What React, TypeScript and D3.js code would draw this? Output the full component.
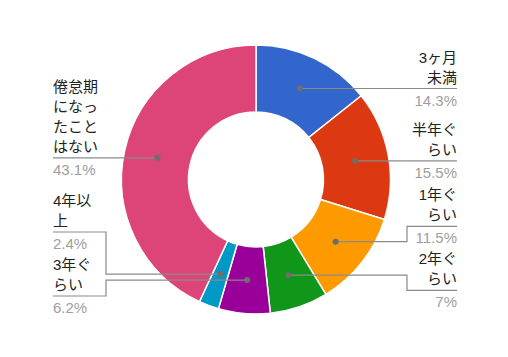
import React from "react";
import * as d3 from "d3";

const categories = ["3ヶ月未満", "半年ぐらい", "1年ぐらい", "2年ぐらい", "3年ぐらい", "4年以上", "倦怠期になったことはない"];
const values = [14.3, 15.5, 11.5, 7, 6.2, 2.4, 43.1];
const percentLabels = ["14.3%", "15.5%", "11.5%", "7%", "6.2%", "2.4%", "43.1%"];
const colors = ["#3366cc", "#dc3912", "#ff9900", "#109618", "#990099", "#0099c6", "#dd4477"];

const W = 508, H = 357;
const cx = 256, cy = 179.5;
const outerR = 134.5, innerR = 67.5;
const FONT = "'Liberation Sans', Arial, 'Noto Sans CJK JP', sans-serif";
const FS = 15;
const LINE_H = 20;
const WRAP_W = 46;
const RIGHT_X = 457, LEFT_X = 53;
const RIGHT_BEND = 407, LEFT_BEND = 106;

function charW(c: string) {
  if (/[0-9]/.test(c)) return 8.34;
  if (/[\x20-\x7e]/.test(c)) return 7;
  return 15;
}
function wrap(s: string): string[] {
  const out: string[] = [];
  let cur = "", w = 0;
  for (const c of Array.from(s)) {
    const cw = charW(c);
    if (w + cw > WRAP_W && cur) { out.push(cur); cur = ""; w = 0; }
    cur += c; w += cw;
  }
  if (cur) out.push(cur);
  return out;
}

type Lab = { i: number; natural: number; y: number; lines: string[] };

function layout(items: Lab[], minY: number, maxY: number) {
  items.sort((a, b) => a.natural - b.natural);
  const above = (l: Lab) => l.lines.length * LINE_H + 2;
  const below = 22;
  let clusters: Lab[][] = [];
  const place = (cl: Lab[]) => {
    const offs: number[] = [0];
    for (let k = 1; k < cl.length; k++) offs.push(offs[k - 1] + below + above(cl[k]));
    let start = d3.mean(cl.map((l, k) => l.natural - offs[k]))!;
    const lastOff = offs[offs.length - 1];
    if (start - above(cl[0]) < minY) start = minY + above(cl[0]);
    if (start + lastOff + below > maxY) start = maxY - below - lastOff;
    cl.forEach((l, k) => (l.y = start + offs[k]));
  };
  for (const it of items) {
    let cl = [it];
    place(cl);
    while (clusters.length) {
      const prev = clusters[clusters.length - 1];
      const p = prev[prev.length - 1];
      if (cl[0].y - above(cl[0]) < p.y + below) {
        clusters.pop();
        cl = prev.concat(cl);
        place(cl);
      } else break;
    }
    clusters.push(cl);
  }
}

export default function App() {
  const pie = d3.pie<number>().sort(null).value((d) => d)(values);
  const arc = d3.arc<d3.PieArcDatum<number>>().innerRadius(innerR).outerRadius(outerR);
  const centroids = pie.map((p) => arc.centroid(p));

  const right: Lab[] = [], left: Lab[] = [];
  pie.forEach((p, i) => {
    const lab: Lab = { i, natural: cy + centroids[i][1], y: 0, lines: wrap(categories[i]) };
    (centroids[i][0] >= 0 ? right : left).push(lab);
  });
  const minY = 40, maxY = cy + outerR + 4;
  layout(right, minY, maxY);
  layout(left, minY, maxY);

  const renderLabel = (l: Lab, side: "r" | "l") => {
    const dx = cx + centroids[l.i][0];
    const dy = cy + centroids[l.i][1];
    const endX = side === "r" ? RIGHT_X : LEFT_X;
    const bend = side === "r" ? RIGHT_BEND : LEFT_BEND;
    const straight = Math.abs(dy - l.y) < 1.5;
    const d = straight
      ? `M${dx},${l.y}H${endX}`
      : `M${dx},${dy}H${bend}V${l.y}H${endX}`;
    const n = l.lines.length;
    const anchor = side === "r" ? "end" : "start";
    return (
      <g key={l.i}>
        <path d={d} fill="none" stroke="#8a8a8a" strokeWidth={1.2} />
        <circle cx={dx} cy={straight ? l.y : dy} r={3} fill="#6e6e6e" />
        {l.lines.map((t, k) => (
          <text key={k} x={endX} y={l.y - 6 - (n - 1 - k) * LINE_H} textAnchor={anchor}
            fontFamily={FONT} fontSize={FS} fill="#222222">{t}</text>
        ))}
        <text x={endX} y={l.y + 17} textAnchor={anchor} fontFamily={FONT} fontSize={FS} fill="#9e9e9e">
          {percentLabels[l.i]}
        </text>
      </g>
    );
  };

  return (
    <svg width={W} height={H} style={{ position: "absolute", left: 0, top: 0, background: "#fff" }}>
      <g transform={`translate(${cx},${cy})`}>
        {pie.map((p, i) => (
          <path key={i} d={arc(p)!} fill={colors[i]} stroke="#ffffff" strokeWidth={1.5} />
        ))}
      </g>
      {right.map((l) => renderLabel(l, "r"))}
      {left.map((l) => renderLabel(l, "l"))}
    </svg>
  );
}
